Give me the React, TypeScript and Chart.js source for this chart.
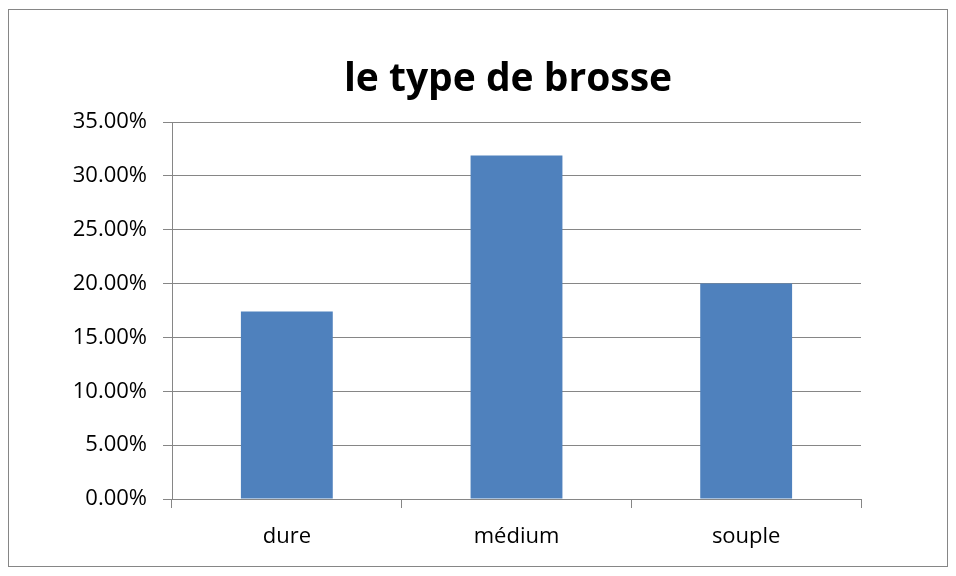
import React, { useEffect, useRef } from "react";
import { Chart, registerables } from "chart.js";

Chart.register(...registerables);

const TITLE = "le type de brosse";
const CATEGORIES = ["dure", "médium", "souple"];
const VALUES = [0.174, 0.319, 0.2];
const Y_MIN = 0;
const Y_MAX = 0.35;
const Y_STEP = 0.05;

const FONT = "'Open Sans', 'Liberation Sans', sans-serif";
const GRID = "#868686";
const BAR = "#4F81BD";

export default function App() {
  const ref = useRef<HTMLCanvasElement | null>(null);

  useEffect(() => {
    if (!ref.current) return;
    const framePlugin = {
      id: "frame",
      beforeDraw(chart: any) {
        const { ctx } = chart;
        ctx.save();
        ctx.fillStyle = "#ffffff";
        ctx.fillRect(0, 0, chart.width, chart.height);
        ctx.strokeStyle = GRID;
        ctx.lineWidth = 1;
        ctx.strokeRect(8.5, 9.5, 939, 557);
        ctx.restore();
      },
      afterDraw(chart: any) {
        const { ctx } = chart;
        ctx.save();
        ctx.fillStyle = "#000";
        ctx.font = `bold 39px ${FONT}`;
        ctx.textAlign = "center";
        ctx.textBaseline = "alphabetic";
        ctx.fillText(TITLE, 508, 91);
        ctx.restore();
      },
    };

    const chart = new Chart(ref.current, {
      type: "bar",
      data: {
        labels: CATEGORIES,
        datasets: [
          {
            data: VALUES,
            backgroundColor: BAR,
            borderWidth: 0,
            categoryPercentage: 0.4,
            barPercentage: 1,
          },
        ],
      },
      options: {
        animation: false,
        responsive: false,
        events: [],
        layout: { padding: { top: 122, right: 95, left: 0, bottom: 0 } },
        plugins: {
          legend: { display: false },
          title: { display: false },
          tooltip: { enabled: false },
        },
        scales: {
          x: {
            grid: {
              offset: true,
              drawOnChartArea: false,
              drawTicks: true,
              tickLength: 9,
              color: GRID,
            },
            border: { color: GRID, width: 1 },
            ticks: {
              color: "#000",
              font: { family: FONT, size: 22 },
              padding: 16,
            },
            afterFit(scale: any) {
              scale.height = 77;
            },
          },
          y: {
            min: Y_MIN,
            max: Y_MAX,
            grid: { color: GRID, tickLength: 9, lineWidth: 1 },
            border: { color: GRID, width: 1 },
            ticks: {
              stepSize: Y_STEP,
              color: "#000",
              font: { family: FONT, size: 22 },
              padding: 16,
              callback: (v: any) => (Number(v) * 100).toFixed(2) + "%",
            },
            afterFit(scale: any) {
              scale.width = 172;
            },
          },
        },
      },
      plugins: [framePlugin],
    });
    return () => chart.destroy();
  }, []);

  return (
    <div style={{ position: "fixed", left: 0, top: 0, width: 956, height: 576 }}>
      <canvas ref={ref} width={956} height={576} style={{ display: "block" }} />
    </div>
  );
}
